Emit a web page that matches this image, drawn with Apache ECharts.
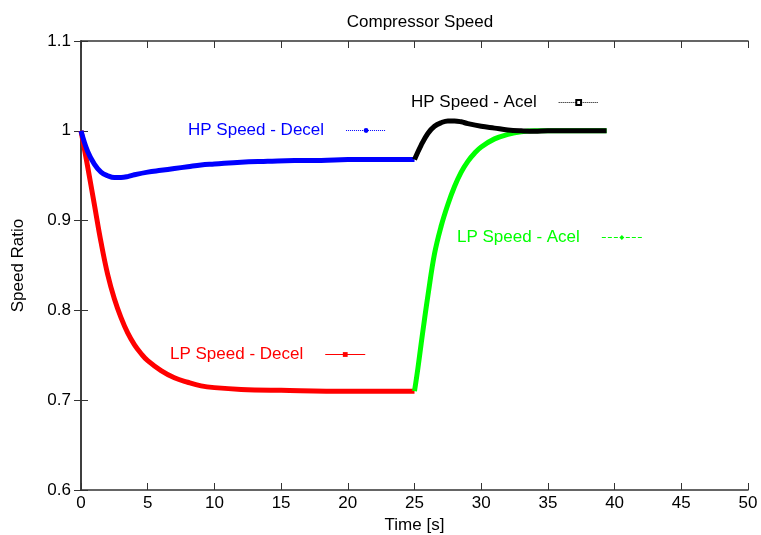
<!DOCTYPE html>
<html>
<head>
<meta charset="utf-8">
<script src="https://cdn.jsdelivr.net/npm/echarts@6/dist/echarts.min.js"></script>
<style>
  html, body { margin: 0; padding: 0; background: #fff; }
  #chart { width: 761px; height: 535px; }
</style>
</head>
<body>
<div id="chart"></div>
<script>
var myChart = echarts.init(document.getElementById('chart'));

// values
var lpDecelT = [0, 0.5, 1, 1.5, 2, 2.5, 3, 3.5, 4, 4.5, 5, 6, 7, 8, 9, 10, 12, 15, 20, 25];
var lpDecelV = [1.000, 0.960, 0.918, 0.876, 0.840, 0.813, 0.792, 0.775, 0.762, 0.752, 0.744, 0.733, 0.725, 0.720, 0.716, 0.714, 0.712, 0.711, 0.710, 0.710];

var hpDecelT = [0, 0.5, 1, 1.5, 2, 2.5, 3, 3.5, 4, 5, 6, 7, 8, 9, 10, 12, 14, 16, 18, 20, 25];
var hpDecelV = [1.000, 0.977, 0.963, 0.954, 0.950, 0.948, 0.948, 0.949, 0.951, 0.954, 0.956, 0.958, 0.960, 0.962, 0.963, 0.965, 0.966, 0.967, 0.967, 0.968, 0.968];

var lpAcelT = [25, 25.25, 25.5, 25.75, 26, 26.5, 27, 27.5, 28, 28.5, 29, 29.5, 30, 31, 32, 33, 34, 36, 39.4];
var lpAcelV = [0.710, 0.735, 0.763, 0.790, 0.816, 0.863, 0.894, 0.918, 0.938, 0.954, 0.966, 0.975, 0.982, 0.991, 0.996, 0.999, 1.000, 1.000, 1.000];

var hpAcelT = [25, 25.5, 26, 26.5, 27, 27.5, 28, 28.5, 29, 30, 31, 32, 33, 34, 35, 37, 39.4];
var hpAcelV = [0.968, 0.984, 0.997, 1.005, 1.009, 1.011, 1.011, 1.010, 1.008, 1.005, 1.003, 1.001, 1.000, 0.9995, 1.000, 1.000, 1.000];

var xTicks = [0, 5, 10, 15, 20, 25, 30, 35, 40, 45, 50];
var yTicks = [0.6, 0.7, 0.8, 0.9, 1, 1.1];

function pairs(t, v) {
    return t.map(function (x, i) { return [x, v[i]]; });
}

var frame = '#333333';
var font = 'Liberation Sans, Arial, sans-serif';

function legendAt(name, left, top, color, type) {
    return {
        data: [name],
        left: left,
        top: top,
        padding: 0,
        align: 'right',
        orient: 'horizontal',
        itemWidth: 40,
        itemHeight: 6,
        selectedMode: false,
        lineStyle: { width: 1, type: type, color: color },
        textStyle: { color: color, fontSize: 17, fontFamily: font, padding: [0, 17, 0, 0] }
    };
}

function frameAxis(pos, min, max, step) {
    return {
        type: 'value', min: min, max: max, interval: step, position: pos,
        axisLine: { lineStyle: { color: frame, width: 1.5 } },
        axisTick: { inside: true, length: 7, lineStyle: { color: frame } },
        axisLabel: { show: false },
        splitLine: { show: false }
    };
}

var option = {
    animation: false,
    backgroundColor: '#fff',
    title: {
        text: 'Compressor Speed',
        left: 415,
        textAlign: 'center',
        top: 9,
        textStyle: { color: '#000', fontSize: 17, fontWeight: 'normal', fontFamily: font }
    },
    grid: { left: 81, right: 13, top: 41, bottom: 45, containLabel: false, outerBoundsMode: 'none' },
    legend: [
        legendAt('HP Speed - Decel', 188, 122, '#0000ff', 'dotted'),
        legendAt('HP Speed - Acel', 411, 94, '#000000', 'dotted'),
        legendAt('LP Speed - Acel', 457, 229, '#00ff00', 'dashed'),
        legendAt('LP Speed - Decel', 170, 346, '#ff0000', 'solid')
    ],
    xAxis: [{
        type: 'value',
        min: xTicks[0],
        max: xTicks[xTicks.length - 1],
        interval: 5,
        position: 'bottom',
        name: 'Time [s]',
        nameLocation: 'middle',
        nameGap: 27,
        nameTextStyle: { color: '#000', fontSize: 17, fontFamily: font },
        axisLine: { lineStyle: { color: frame, width: 1.5 } },
        axisTick: { inside: true, length: 7, lineStyle: { color: frame } },
        axisLabel: { color: '#000', fontSize: 17, fontFamily: font, margin: 5 },
        splitLine: { show: false }
    }, frameAxis('top', xTicks[0], xTicks[xTicks.length - 1], 5)],
    yAxis: [{
        type: 'value',
        min: yTicks[0],
        max: yTicks[yTicks.length - 1],
        interval: 0.1,
        position: 'left',
        name: 'Speed Ratio',
        nameLocation: 'middle',
        nameGap: 54,
        nameTextStyle: { color: '#000', fontSize: 17, fontFamily: font },
        axisLine: { lineStyle: { color: frame, width: 1.5 } },
        axisTick: { inside: true, length: 7, lineStyle: { color: frame } },
        axisLabel: {
            color: '#000', fontSize: 17, fontFamily: font, margin: 10,
            formatter: function (v) { return String(Math.round(v * 10) / 10); }
        },
        splitLine: { show: false }
    }, frameAxis('right', yTicks[0], yTicks[yTicks.length - 1], 0.1)],
    series: [
        {
            name: 'LP Speed - Decel', type: 'line', data: pairs(lpDecelT, lpDecelV),
            smooth: 0.4, symbol: 'rect', symbolSize: 3, showSymbol: false,
            itemStyle: { color: '#ff0000' }, lineStyle: { color: '#ff0000', width: 5 }
        },
        {
            name: 'HP Speed - Decel', type: 'line', data: pairs(hpDecelT, hpDecelV),
            smooth: 0.4, symbol: 'circle', symbolSize: 4, showSymbol: false,
            itemStyle: { color: '#0000ff' }, lineStyle: { color: '#0000ff', width: 5 }
        },
        {
            name: 'LP Speed - Acel', type: 'line', data: pairs(lpAcelT, lpAcelV),
            smooth: 0.4, symbol: 'diamond', symbolSize: 4, showSymbol: false,
            itemStyle: { color: '#00ff00' }, lineStyle: { color: '#00ff00', width: 5 }
        },
        {
            name: 'HP Speed - Acel', type: 'line', data: pairs(hpAcelT, hpAcelV),
            smooth: 0.4, symbol: 'emptyRect', symbolSize: 5, showSymbol: false,
            itemStyle: { color: '#000000' }, lineStyle: { color: '#000000', width: 5 }
        }
    ]
};

myChart.setOption(option);
</script>
</body>
</html>
